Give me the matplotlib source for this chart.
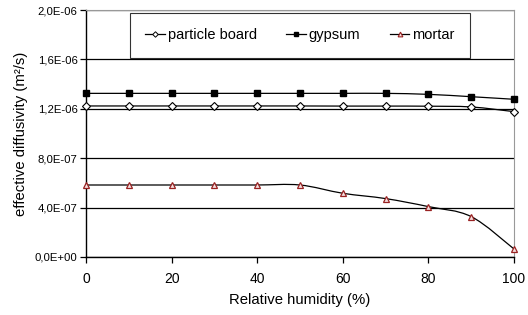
import numpy as np
import matplotlib
matplotlib.use("Agg")
import matplotlib.pyplot as plt
from matplotlib.path import Path
from matplotlib.patches import PathPatch
from matplotlib.lines import Line2D
from matplotlib.ticker import FuncFormatter

plt.rcParams['font.family'] = ['Liberation Sans', 'DejaVu Sans']

rh = [0, 10, 20, 30, 40, 50, 60, 70, 80, 90, 100]
particle_board = [1.223e-6, 1.223e-6, 1.223e-6, 1.223e-6, 1.223e-6, 1.223e-6,
                  1.222e-6, 1.222e-6, 1.221e-6, 1.215e-6, 1.177e-6]
gypsum = [1.325e-6, 1.325e-6, 1.325e-6, 1.325e-6, 1.325e-6, 1.325e-6,
          1.325e-6, 1.325e-6, 1.317e-6, 1.298e-6, 1.277e-6]
mortar = [5.83e-7, 5.83e-7, 5.83e-7, 5.83e-7, 5.83e-7, 5.83e-7,
          5.16e-7, 4.73e-7, 4.08e-7, 3.27e-7, 6.5e-8]

labels = ['particle board', 'gypsum', 'mortar']


def smooth_path(x, y):
    # excel style smoothed line: cubic bezier through every point
    x = np.asarray(x, float)
    y = np.asarray(y, float)
    verts = [(x[0], y[0])]
    codes = [Path.MOVETO]
    n = len(x)
    for i in range(n - 1):
        p0 = (x[max(i - 1, 0)], y[max(i - 1, 0)])
        p1 = (x[i], y[i])
        p2 = (x[i + 1], y[i + 1])
        p3 = (x[min(i + 2, n - 1)], y[min(i + 2, n - 1)])
        c1 = (p1[0] + (p2[0] - p0[0]) / 6, p1[1] + (p2[1] - p0[1]) / 6)
        c2 = (p2[0] - (p3[0] - p1[0]) / 6, p2[1] - (p3[1] - p1[1]) / 6)
        verts += [c1, c2, p2]
        codes += [Path.CURVE4] * 3
    return Path(verts, codes)


fig = plt.figure(figsize=(5.28, 3.15), dpi=100)
ax = fig.add_axes([86 / 528, 1 - 257 / 315, 428 / 528, 247 / 315])

styles = [
    dict(marker='D', markersize=3.6, markerfacecolor='white', markeredgecolor='black', markeredgewidth=0.8),
    dict(marker='s', markersize=4.0, markerfacecolor='black', markeredgecolor='black'),
    dict(marker='^', markersize=4.6, markerfacecolor='#f4e0e0', markeredgecolor='#992222', markeredgewidth=0.9),
]

for ys, st in zip([particle_board, gypsum, mortar], styles):
    ax.add_patch(PathPatch(smooth_path(rh, ys), fill=False, edgecolor='black', lw=0.9, zorder=3))
    ax.plot(rh, ys, linestyle='none', zorder=4, clip_on=False, **st)

ax.set_xlim(0, 100)
ax.set_ylim(0, 2.0e-6)
ax.set_xticks(range(0, 101, 20))
ax.set_yticks(np.arange(0, 2.01e-6, 4e-7))
ax.yaxis.set_major_formatter(FuncFormatter(lambda v, p: ('%.1E' % v).replace('.', ',')))
ax.grid(axis='y', color='black', lw=0.9)
ax.set_axisbelow(True)
ax.tick_params(axis='y', labelsize=8.2, direction='out', length=4, width=0.9, pad=2)
ax.tick_params(axis='x', labelsize=10, direction='out', length=4, width=0.9, pad=7)
for s in ['top', 'right']:
    ax.spines[s].set_color('#999999')
for s in ['left', 'bottom']:
    ax.spines[s].set_color('black')
    ax.spines[s].set_linewidth(1.0)
ax.set_xlabel('Relative humidity (%)', fontsize=10.7, labelpad=5)
ax.set_ylabel('effective diffusivity (m²/s)', fontsize=10.7, labelpad=5)

leg_styles = [
    dict(marker='D', markersize=2.8, markerfacecolor='white', markeredgecolor='black', markeredgewidth=0.7),
    dict(marker='s', markersize=3.2, markerfacecolor='black', markeredgecolor='black'),
    dict(marker='^', markersize=3.4, markerfacecolor='#f4e0e0', markeredgecolor='#992222', markeredgewidth=0.8),
]
handles = [Line2D([0], [0], color='black', lw=0.9, **st) for st in leg_styles]
leg = ax.legend(handles, labels, loc='upper center', bbox_to_anchor=(0.5, 0.988), ncol=3,
                fontsize=10.5, frameon=True, fancybox=False, edgecolor='black',
                handlelength=1.35, handletextpad=0.2, columnspacing=2.0,
                borderpad=1.05, borderaxespad=0)
leg.get_frame().set_linewidth(0.8)

fig.savefig('out.png', dpi=100)
